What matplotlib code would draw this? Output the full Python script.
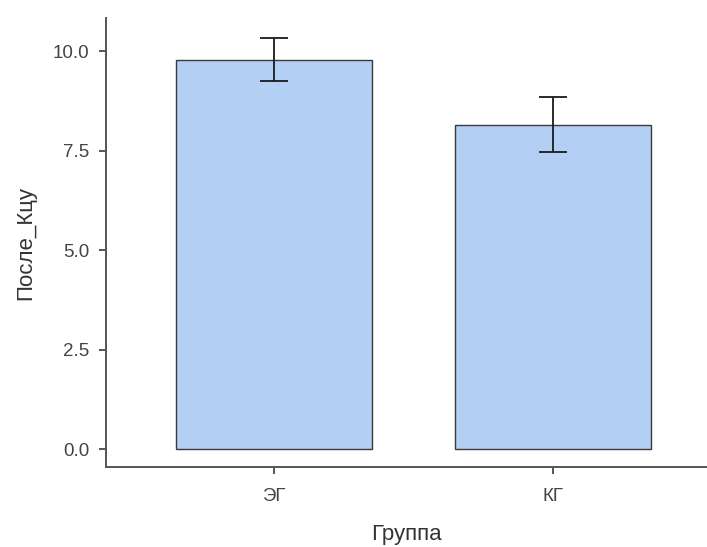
import matplotlib.pyplot as plt

groups = ["ЭГ", "КГ"]
means = [9.77, 8.14]
ci_low = [9.25, 7.47]
ci_high = [10.32, 8.85]

plt.rcParams['font.family'] = ['Liberation Sans', 'DejaVu Sans']

fig = plt.figure(figsize=(7.07, 5.47), dpi=100)
ax = fig.add_axes([0.150, 0.146, 0.850, 0.821])

x = list(range(len(groups)))
err = [[m - lo for m, lo in zip(means, ci_low)],
       [hi - m for m, hi in zip(means, ci_high)]]
ax.bar(x, means, width=0.70, color="#b3cff4", edgecolor="#3a3a3a", linewidth=1.0, zorder=2)
ax.errorbar(x, means, yerr=err, fmt="none", ecolor="#1a1a1a", elinewidth=1.3,
            capsize=10, capthick=1.3, zorder=3)

ax.set_xlim(-0.6, 1.55)
ax.set_ylim(-0.45, 10.83)
ax.set_yticks([0, 2.5, 5, 7.5, 10])
ax.set_yticklabels(["0.0", "2.5", "5.0", "7.5", "10.0"])
ax.set_xticks(x)
ax.set_xticklabels(groups)

for s in ["top", "right"]:
    ax.spines[s].set_visible(False)
for s in ["left", "bottom"]:
    ax.spines[s].set_color("#555555")
    ax.spines[s].set_linewidth(1.4)
ax.tick_params(colors="#555555", labelsize=13.5, length=5, width=1.4)
ax.tick_params(axis="x", pad=10)
ax.tick_params(axis="y", pad=7)
for lab in ax.get_xticklabels() + ax.get_yticklabels():
    lab.set_color("#444444")

ax.set_xlabel("Группа", fontsize=16, color="#333333", labelpad=14)
ax.set_ylabel("После_Кцу", fontsize=16, color="#333333", labelpad=12)

fig.savefig("out.png", dpi=100)
